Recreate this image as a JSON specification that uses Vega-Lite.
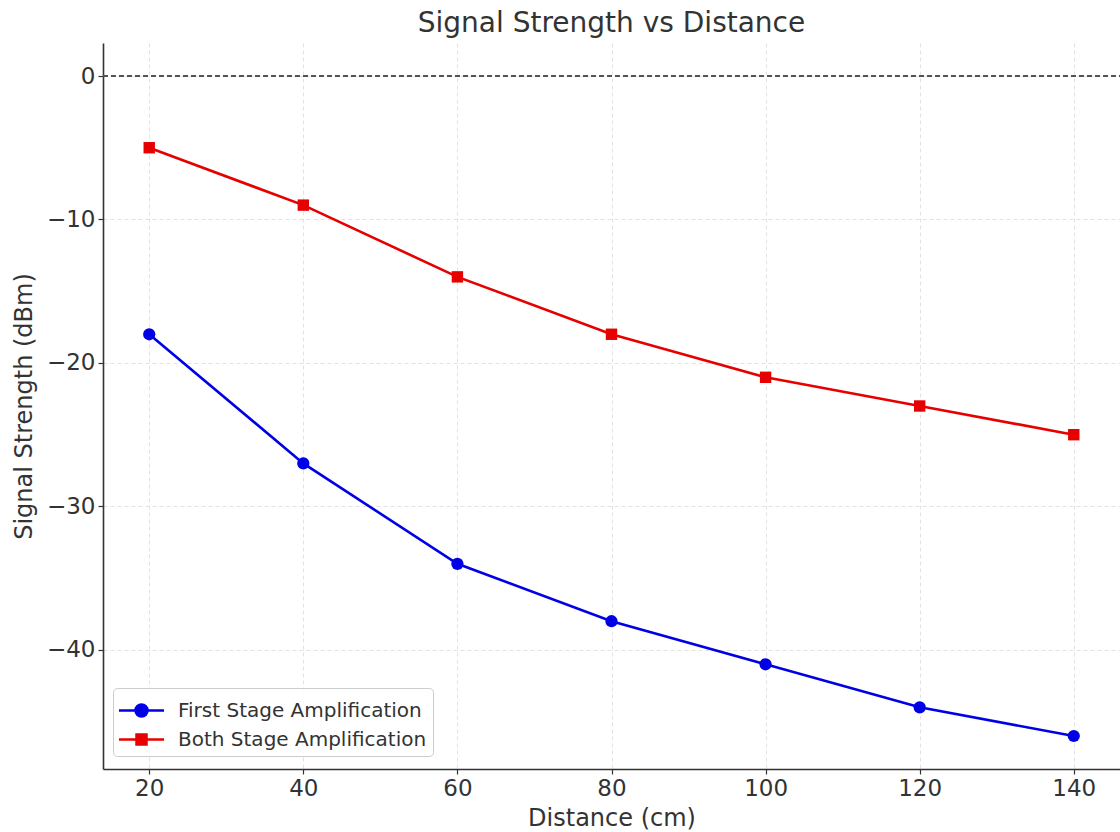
{
  "$schema": "https://vega.github.io/schema/vega-lite/v6.json",
  "width": 1017,
  "height": 726,
  "autosize": {"type": "none"},
  "padding": {"left": 103, "top": 43, "right": 0, "bottom": 63},
  "background": "white",
  "title": {"text": "Signal Strength vs Distance", "font": "DejaVu Sans", "fontSize": 28, "fontWeight": "normal", "color": "#333333", "anchor": "middle", "offset": 5},
  "config": {
    "view": {"stroke": null},
    "font": "DejaVu Sans",
    "axis": {
      "domainColor": "#333333", "domainWidth": 1.6,
      "tickColor": "#333333", "tickSize": 5, "tickWidth": 1.2,
      "labelFont": "DejaVu Sans", "labelFontSize": 23, "labelColor": "#333333", "labelPadding": 3,
      "titleFont": "DejaVu Sans", "titleFontSize": 24, "titleColor": "#333333", "titleFontWeight": "normal",
      "grid": true, "gridDash": [4, 3], "gridColor": "#e2e2e2", "gridWidth": 1
    }
  },
  "data": {"values": [
    {"distance": 20, "signal": -18, "series": "First Stage Amplification"},
    {"distance": 40, "signal": -27, "series": "First Stage Amplification"},
    {"distance": 60, "signal": -34, "series": "First Stage Amplification"},
    {"distance": 80, "signal": -38, "series": "First Stage Amplification"},
    {"distance": 100, "signal": -41, "series": "First Stage Amplification"},
    {"distance": 120, "signal": -44, "series": "First Stage Amplification"},
    {"distance": 140, "signal": -46, "series": "First Stage Amplification"},
    {"distance": 20, "signal": -5, "series": "Both Stage Amplification"},
    {"distance": 40, "signal": -9, "series": "Both Stage Amplification"},
    {"distance": 60, "signal": -14, "series": "Both Stage Amplification"},
    {"distance": 80, "signal": -18, "series": "Both Stage Amplification"},
    {"distance": 100, "signal": -21, "series": "Both Stage Amplification"},
    {"distance": 120, "signal": -23, "series": "Both Stage Amplification"},
    {"distance": 140, "signal": -25, "series": "Both Stage Amplification"}
  ]},
  "encoding": {
    "x": {"field": "distance", "type": "quantitative", "scale": {"domain": [14, 146], "nice": false, "zero": false},
      "axis": {"title": "Distance (cm)", "values": [20, 40, 60, 80, 100, 120, 140], "titlePadding": 6}},
    "y": {"field": "signal", "type": "quantitative", "scale": {"domain": [-48.3, 2.3], "nice": false, "zero": false},
      "axis": {"title": "Signal Strength (dBm)", "values": [0, -10, -20, -30, -40], "titlePadding": 10}}
  },
  "layer": [
    {
      "mark": {"type": "rule", "strokeDash": [5, 3], "color": "#555555", "strokeWidth": 1.2},
      "encoding": {"y": {"datum": 0}, "x": {"value": 0}, "x2": {"value": 1017}}
    },
    {
      "mark": {"type": "line", "strokeWidth": 2.6},
      "encoding": {
        "color": {"field": "series", "type": "nominal",
          "scale": {"domain": ["First Stage Amplification", "Both Stage Amplification"], "range": ["#0000e6", "#e60000"]},
          "legend": {
            "title": null, "orient": "none", "legendX": 10, "legendY": 645,
            "padding": 6, "fillColor": "rgba(255,255,255,0.85)", "strokeColor": "#cccccc", "cornerRadius": 4,
            "symbolSize": 900, "symbolStrokeWidth": 2.5, "labelOffset": 26, "rowPadding": 1,
            "labelFont": "DejaVu Sans", "labelFontSize": 20, "labelColor": "#333333", "labelLimit": 400,
            "encode": {"symbols": {"update": {
              "shape": {"signal": "datum.value === 'First Stage Amplification' ? 'M-1.1,0L1.9,0M0,0A0.4,0.4 0 1 0 0.8,0A0.4,0.4 0 1 0 0,0Z' : 'M-1.1,0L1.9,0M0.067,-0.333L0.733,-0.333L0.733,0.333L0.067,0.333Z'"},
              "fill": {"signal": "datum.value === 'First Stage Amplification' ? '#0000e6' : '#e60000'"},
              "stroke": {"signal": "datum.value === 'First Stage Amplification' ? '#0000e6' : '#e60000'"},
              "strokeWidth": {"value": 2.5},
              "opacity": {"value": 1}
            }}}
          }
        }
      }
    },
    {
      "transform": [{"filter": "datum.series === 'First Stage Amplification'"}],
      "mark": {"type": "point", "shape": "circle", "filled": true, "opacity": 1, "color": "#0000e6", "size": 150}
    },
    {
      "transform": [{"filter": "datum.series === 'Both Stage Amplification'"}],
      "mark": {"type": "point", "shape": "square", "filled": true, "opacity": 1, "color": "#e60000", "size": 130}
    }
  ]
}
